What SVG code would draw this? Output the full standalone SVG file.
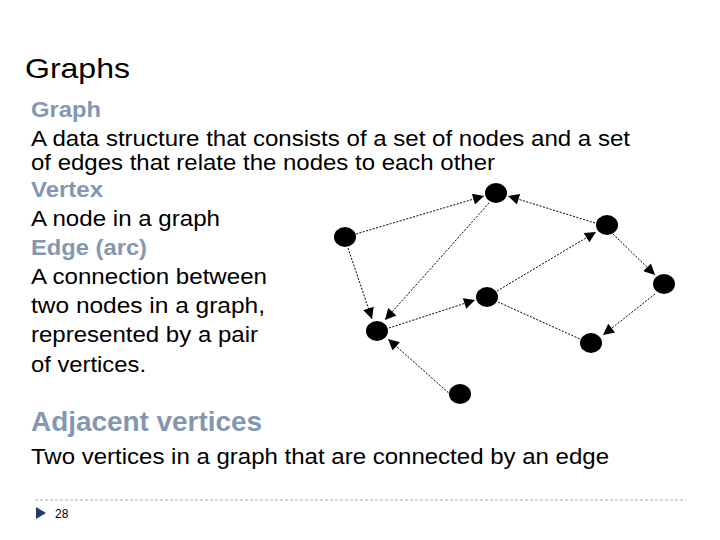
<svg xmlns="http://www.w3.org/2000/svg" width="720" height="540" viewBox="0 0 720 540">
<style>
text{font-family:"Liberation Sans",Arial,sans-serif;fill:#000}
.b{font-size:22px}
.h{fill:#8497b0;font-weight:bold}
.e{stroke:#000;stroke-width:1;stroke-dasharray:2,1.5;fill:none}
.n{fill:#000}
</style>
<defs><marker id="a" viewBox="0 0 10 10" refX="10" refY="5" markerWidth="16" markerHeight="11" markerUnits="userSpaceOnUse" orient="auto"><path d="M0,0L10,5L0,10z"/></marker></defs>
<rect width="720" height="540" fill="#fff"/>
<text x="25" y="78" font-size="28" textLength="105" lengthAdjust="spacingAndGlyphs">Graphs</text>
<text class="b h" x="31" y="117" textLength="70" lengthAdjust="spacingAndGlyphs">Graph</text>
<text class="b" x="31" y="146" textLength="599" lengthAdjust="spacingAndGlyphs">A data structure that consists of a set of nodes and a set</text>
<text class="b" x="31" y="170" textLength="464" lengthAdjust="spacingAndGlyphs">of edges that relate the nodes to each other</text>
<text class="b h" x="31" y="197" textLength="72" lengthAdjust="spacingAndGlyphs">Vertex</text>
<text class="b" x="31" y="226" textLength="189" lengthAdjust="spacingAndGlyphs">A node in a graph</text>
<text class="b h" x="31" y="255" textLength="116" lengthAdjust="spacingAndGlyphs">Edge (arc)</text>
<text class="b" x="31" y="284" textLength="236" lengthAdjust="spacingAndGlyphs">A connection between</text>
<text class="b" x="31" y="313" textLength="234" lengthAdjust="spacingAndGlyphs">two nodes in a graph,</text>
<text class="b" x="31" y="342" textLength="227" lengthAdjust="spacingAndGlyphs">represented by a pair</text>
<text class="b" x="31" y="372" textLength="115" lengthAdjust="spacingAndGlyphs">of vertices.</text>
<text class="h" x="31" y="431" font-size="27" textLength="231" lengthAdjust="spacingAndGlyphs">Adjacent vertices</text>
<text class="b" x="31" y="464" textLength="578" lengthAdjust="spacingAndGlyphs">Two vertices in a graph that are connected by an edge</text>
<g id="edges">
<line class="e" x1="356" y1="234" x2="484" y2="196" marker-end="url(#a)"/>
<line class="e" x1="489" y1="203" x2="385" y2="320" marker-end="url(#a)"/>
<line class="e" x1="595" y1="223" x2="508" y2="196" marker-end="url(#a)"/>
<line class="e" x1="613" y1="234" x2="655" y2="275" marker-end="url(#a)"/>
<line class="e" x1="497" y1="291" x2="596" y2="232" marker-end="url(#a)"/>
<line class="e" x1="389" y1="328" x2="475" y2="300" marker-end="url(#a)"/>
<line class="e" x1="655" y1="294" x2="603" y2="335" marker-end="url(#a)"/>
<line class="e" x1="498" y1="302" x2="580" y2="339"/>
<line class="e" x1="348" y1="248" x2="372" y2="319" marker-end="url(#a)"/>
<line class="e" x1="451" y1="395" x2="388" y2="339" marker-end="url(#a)"/>
</g>
<g id="A"><ellipse class="n" cx="345" cy="237" rx="11" ry="10"/></g>
<g id="B"><ellipse class="n" cx="496" cy="193" rx="11" ry="10"/></g>
<g id="C"><ellipse class="n" cx="607" cy="225" rx="11" ry="10"/></g>
<g id="D"><ellipse class="n" cx="664" cy="284" rx="11" ry="10"/></g>
<g id="E"><ellipse class="n" cx="487" cy="297" rx="11" ry="10"/></g>
<g id="F"><ellipse class="n" cx="377" cy="331" rx="11" ry="10"/></g>
<g id="G"><ellipse class="n" cx="591" cy="343" rx="11" ry="10"/></g>
<g id="H"><ellipse class="n" cx="460" cy="394" rx="11" ry="10"/></g>
<line x1="35" y1="500" x2="686" y2="500" stroke="#b0b0b0" stroke-dasharray="3,2"/>
<path d="M36,507L46,513L36,519z" fill="#1f3b6e"/>
<text x="55" y="518" font-size="12" fill="#404040">28</text>
</svg>
